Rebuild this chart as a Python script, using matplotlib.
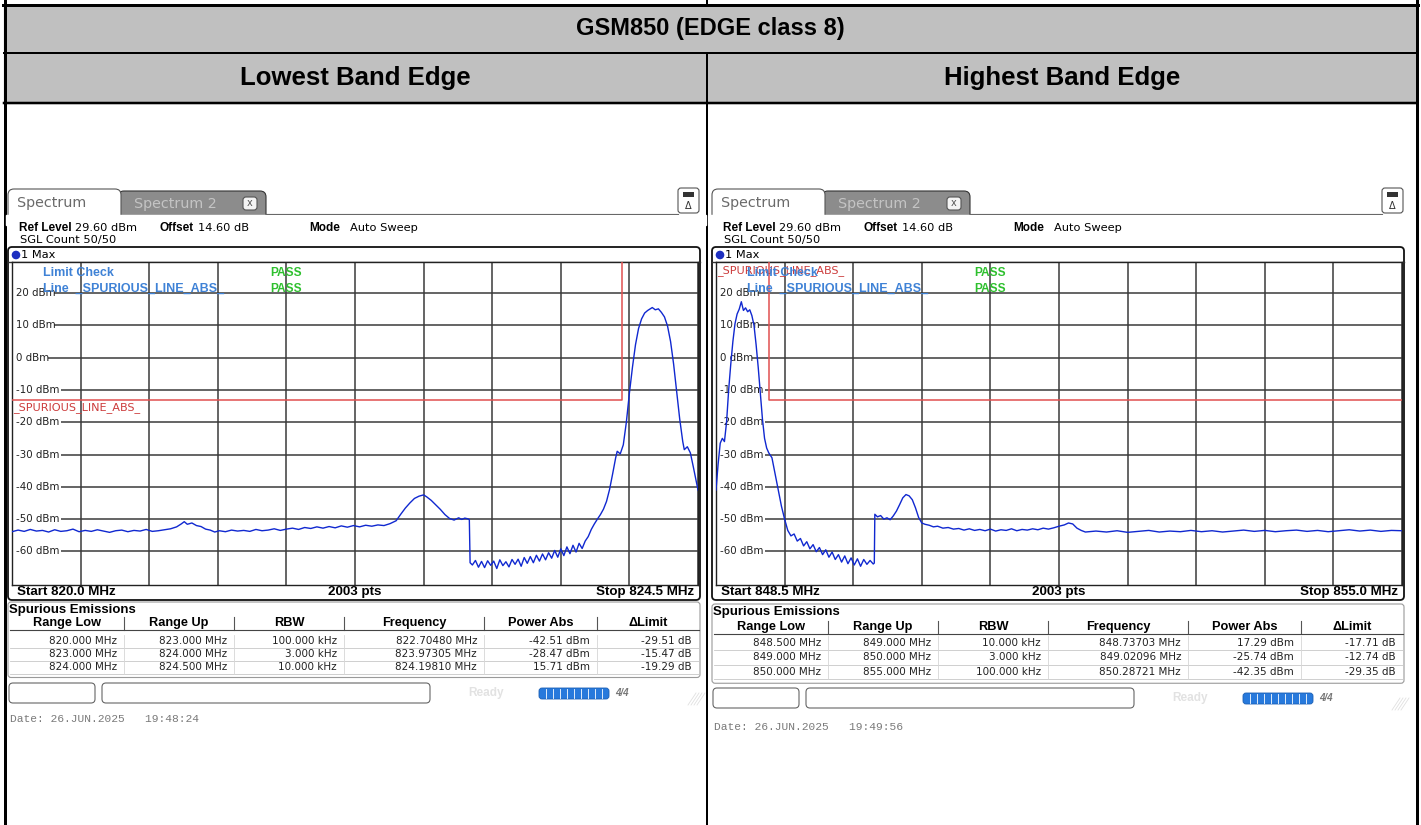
import numpy as np
import matplotlib
matplotlib.use('Agg')
import matplotlib.pyplot as plt
from matplotlib.patches import FancyBboxPatch, Rectangle, Circle

# ---------------- data ----------------
title = 'GSM850 (EDGE class 8)'
col_titles = ['Lowest Band Edge', 'Highest Band Edge']

low_span = (820.0, 824.5)
high_span = (848.5, 855.0)

low_freq = [820.00, 820.04, 820.08, 820.12, 820.16, 820.20, 820.24, 820.28, 820.32, 820.36,
            820.40, 820.44, 820.48, 820.52, 820.56, 820.60, 820.64, 820.68, 820.72, 820.76,
            820.80, 820.84, 820.88, 820.92, 820.96, 821.00, 821.04, 821.08, 821.11, 821.13,
            821.15, 821.18, 821.21, 821.24, 821.27, 821.30, 821.33, 821.36, 821.40, 821.44,
            821.48, 821.52, 821.56, 821.60, 821.64, 821.68, 821.72, 821.76, 821.80, 821.84,
            821.88, 821.92, 821.96, 822.00, 822.04, 822.08, 822.12, 822.16, 822.20, 822.24,
            822.28, 822.32, 822.36, 822.40, 822.44, 822.48, 822.52, 822.55, 822.58, 822.61,
            822.64, 822.67, 822.70, 822.72, 822.75, 822.78, 822.81, 822.84, 822.87, 822.90,
            822.93, 822.95, 822.97, 822.99, 823.00, 823.005, 823.02, 823.04, 823.06, 823.08,
            823.10, 823.12, 823.14, 823.16, 823.18, 823.20, 823.22, 823.24, 823.26, 823.28,
            823.30, 823.32, 823.34, 823.36, 823.38, 823.40, 823.42, 823.44, 823.46, 823.48,
            823.50, 823.52, 823.54, 823.56, 823.58, 823.60, 823.62, 823.64, 823.66, 823.68,
            823.70, 823.72, 823.74, 823.76, 823.78, 823.80, 823.82, 823.84, 823.86, 823.88,
            823.90, 823.92, 823.94, 823.96, 823.97, 823.99, 824.01, 824.03, 824.05, 824.07,
            824.09, 824.11, 824.13, 824.15, 824.17, 824.20, 824.22, 824.24, 824.26, 824.28,
            824.30, 824.32, 824.34, 824.36, 824.38, 824.40, 824.41, 824.43, 824.45, 824.47,
            824.50]
low_dbm = [-53.9, -53.4, -53.8, -53.2, -53.7, -53.5, -54.0, -53.3, -53.8, -53.6,
           -53.1, -53.9, -53.5, -53.8, -53.3, -53.7, -54.1, -53.6, -53.4, -53.9,
           -53.5, -53.7, -53.2, -53.8, -53.6, -53.3, -53.0, -52.4, -51.5, -50.8,
           -51.6, -51.2, -52.0, -52.3, -53.1, -53.4, -54.0, -53.6, -53.9, -53.4,
           -53.7, -53.5, -53.8, -53.2, -53.6, -53.4, -53.0, -53.5, -53.1, -52.8,
           -53.2, -52.6, -52.9, -52.4, -52.8, -52.3, -52.7, -52.1, -52.5, -52.0,
           -52.4, -51.9, -52.2, -51.8, -52.0, -51.4, -50.5, -48.5, -46.6, -45.0,
           -43.6, -42.9, -42.5, -43.1, -44.2, -45.6, -47.0, -48.6, -49.8, -50.3,
           -49.6, -50.1, -49.7, -49.9, -50.2, -63.5, -64.2, -62.8, -64.9, -63.1,
           -65.0, -62.9, -64.3, -63.0, -65.3, -62.6, -64.4, -63.2, -64.8, -62.5,
           -64.0, -62.4, -64.6, -61.9, -63.7, -61.6, -63.5, -61.2, -63.0, -60.8,
           -62.6, -60.4, -62.1, -59.7, -61.8, -59.2, -61.3, -58.6, -60.7, -58.1,
           -60.2, -57.5, -59.1, -56.8, -55.4, -53.2, -51.5, -50.0, -48.6, -46.9,
           -44.5, -40.8, -36.0, -31.0, -29.0, -29.8, -27.0, -20.0, -11.0, -3.0,
           4.0, 9.0, 12.0, 13.8, 14.6, 15.5, 14.8, 15.1, 14.0, 12.6,
           9.8, 5.0, -2.0, -10.5, -19.0, -26.0, -28.5, -27.6, -29.5, -34.0,
           -41.0]

high_freq = [848.50, 848.52, 848.54, 848.56, 848.58, 848.60, 848.62, 848.64, 848.66, 848.68,
             848.70, 848.72, 848.74, 848.76, 848.78, 848.80, 848.82, 848.84, 848.86, 848.88,
             848.90, 848.92, 848.94, 848.96, 848.98, 849.00, 849.03, 849.06, 849.09, 849.12,
             849.15, 849.18, 849.21, 849.24, 849.27, 849.30, 849.33, 849.36, 849.39, 849.42,
             849.45, 849.48, 849.51, 849.54, 849.57, 849.60, 849.63, 849.66, 849.69, 849.72,
             849.75, 849.78, 849.81, 849.84, 849.87, 849.90, 849.93, 849.96, 849.99, 850.00,
             850.005, 850.03, 850.06, 850.09, 850.12, 850.15, 850.18, 850.21, 850.24, 850.27,
             850.30, 850.33, 850.36, 850.39, 850.42, 850.45, 850.48, 850.52, 850.56, 850.60,
             850.65, 850.70, 850.75, 850.80, 850.85, 850.90, 850.95, 851.00, 851.05, 851.10,
             851.15, 851.20, 851.25, 851.30, 851.35, 851.40, 851.45, 851.50, 851.55, 851.60,
             851.65, 851.70, 851.75, 851.80, 851.84, 851.88, 851.92, 851.96, 852.00, 852.10,
             852.20, 852.30, 852.40, 852.50, 852.60, 852.70, 852.80, 852.90, 853.00, 853.10,
             853.20, 853.30, 853.40, 853.50, 853.60, 853.70, 853.80, 853.90, 854.00, 854.10,
             854.20, 854.30, 854.40, 854.50, 854.60, 854.70, 854.80, 854.90, 855.00]
high_dbm = [-41.0, -33.0, -26.5, -25.0, -26.0, -20.0, -10.0, -2.0, 5.0, 10.5,
            13.5, 15.0, 17.3, 14.6, 15.4, 14.2, 14.8, 13.0, 10.0, 4.0,
            -3.0, -11.0, -19.0, -25.0, -28.0, -29.5, -31.0, -36.0, -41.0, -46.0,
            -50.0, -53.5, -55.2, -54.6, -56.8, -56.0, -58.3, -57.0, -59.2, -57.9,
            -60.1, -58.8, -61.0, -59.5, -61.8, -60.2, -62.5, -61.0, -63.3, -61.4,
            -63.8, -62.0, -64.2, -62.3, -64.6, -62.5, -64.0, -62.8, -63.9, -63.6,
            -48.5, -49.3, -48.9, -50.0, -49.6, -50.2, -49.0, -47.5, -45.5, -43.4,
            -42.4, -42.8, -44.0, -46.5, -49.5, -51.2, -51.6, -51.9, -52.4, -52.2,
            -52.8, -52.6, -53.1, -52.9, -53.4, -53.0, -53.5, -53.2, -53.6, -53.1,
            -53.7, -53.3, -53.5, -53.0, -53.6, -53.2, -53.4, -53.0, -53.3, -52.8,
            -53.1, -52.7, -52.2, -51.8, -51.2, -51.5, -52.8, -53.5, -54.0, -53.7,
            -54.0, -53.6, -54.1, -53.8, -53.5, -54.0, -53.7, -53.9, -53.5, -53.9,
            -53.6, -54.0, -53.7, -53.4, -53.8, -53.5, -53.9, -53.6, -53.4, -53.8,
            -53.5, -53.9, -53.6, -53.3, -53.7, -53.4, -53.8, -53.5, -53.6]

# limit line _SPURIOUS_LINE_ABS_
low_lim_f = [820.0, 824.0, 824.0, 824.5]
low_lim_v = [-13, -13, 45, 45]
high_lim_f = [848.5, 849.0, 849.0, 855.0]
high_lim_v = [45, 45, -13, -13]

ylevels = [20, 10, 0, -10, -20, -30, -40, -50, -60]

tbl_head = ['Range Low', 'Range Up', 'RBW', 'Frequency', 'Power Abs', '\u0394Limit']
low_rows = [['820.000 MHz', '823.000 MHz', '100.000 kHz', '822.70480 MHz', '-42.51 dBm', '-29.51 dB'],
            ['823.000 MHz', '824.000 MHz', '3.000 kHz', '823.97305 MHz', '-28.47 dBm', '-15.47 dB'],
            ['824.000 MHz', '824.500 MHz', '10.000 kHz', '824.19810 MHz', '15.71 dBm', '-19.29 dB']]
high_rows = [['848.500 MHz', '849.000 MHz', '10.000 kHz', '848.73703 MHz', '17.29 dBm', '-17.71 dB'],
             ['849.000 MHz', '850.000 MHz', '3.000 kHz', '849.02096 MHz', '-25.74 dBm', '-12.74 dB'],
             ['850.000 MHz', '855.000 MHz', '100.000 kHz', '850.28721 MHz', '-42.35 dBm', '-29.35 dB']]
dates = ['Date: 26.JUN.2025   19:48:24', 'Date: 26.JUN.2025   19:49:56']

# ---------------- figure ----------------
W, H = 1421, 825
fig = plt.figure(figsize=(W / 100, H / 100), dpi=100)
bg = fig.add_axes([0, 0, 1, 1])
bg.set_xlim(0, W)
bg.set_ylim(H, 0)
bg.axis('off')

SANS = ['Liberation Sans', 'DejaVu Sans']   # word table + bold instrument text
RS = ['DejaVu Sans']                        # regular instrument text
px = 0.72  # pixels -> points

# outer word table
bg.add_patch(Rectangle((4, 5), 1412, 98, color='#c0c0c0', zorder=0))
bg.plot([3, 1418], [5, 5], color='k', lw=3 * px)
bg.plot([4, 1416], [53, 53], color='k', lw=2 * px)
bg.plot([4, 1416], [103, 103], color='k', lw=2.5 * px)
bg.plot([4.5, 4.5], [0, H], color='k', lw=3 * px)
bg.plot([1416.5, 1416.5], [0, H], color='k', lw=3 * px)
bg.plot([707, 707], [0, 5], color='k', lw=2 * px)
bg.plot([707, 707], [53, H], color='k', lw=2 * px)
bg.text(710, 29, title, ha='center', va='center', fontsize=17, fontweight='bold', family=SANS)
bg.text(355, 78, col_titles[0], ha='center', va='center', fontsize=18.5, fontweight='bold', family=SANS)
bg.text(1062, 78, col_titles[1], ha='center', va='center', fontsize=18.5, fontweight='bold', family=SANS)


def rbox(x0, y0, x1, y1, r, **kw):
    bg.add_patch(FancyBboxPatch((x0, y0), x1 - x0, y1 - y0,
                                boxstyle='round,pad=0,rounding_size=%g' % r, **kw))


def panel(ox, span, freq, dbm, lim_f, lim_v, rows, date, lay, limlab_y):
    # lay: y positions of the lower part (differs a little between the two screenshots)
    def t(x, y, s, bold=False, **kw):
        if bold:
            return bg.text(ox + x, y, s, family=SANS, fontweight='bold', va='center', **kw)
        return bg.text(ox + x, y, s, family=RS, va='center', **kw)

    # tabs
    rbox(ox + 118, 191, ox + 266, 222, 6, fc='#8c8c8c', ec='#333333', lw=0.8)
    rbox(ox + 8, 189, ox + 121, 222, 6, fc='white', ec='#555555', lw=0.8)
    bg.add_patch(Rectangle((ox + 6, 214.5), 700, 10, color='white', zorder=3))
    bg.plot([ox + 266, ox + 678], [214, 214], color='#444444', lw=0.8)
    t(17, 203, 'Spectrum', fontsize=10.3, color='#6a6a6a')
    t(134, 204, 'Spectrum 2', fontsize=10.3, color='#c4c4c4')
    rbox(ox + 243, 197, ox + 257, 210, 3, fc='#f4f4f4', ec='#555555', lw=0.8)
    t(250, 203, 'x', fontsize=7, color='#555555', ha='center')
    rbox(ox + 678, 188, ox + 699, 213, 3, fc='white', ec='#555555', lw=0.8)
    bg.add_patch(Rectangle((ox + 683, 192), 11, 5, fc='#333333', ec='none'))
    t(688.5, 206, '\u0394', fontsize=7, color='#333333', ha='center')
    # header lines
    t(19, 228, 'Ref Level', bold=True, fontsize=8.5)
    t(75, 228, '29.60 dBm', fontsize=8.2)
    t(159, 228, 'Offset', bold=True, fontsize=8.5)
    t(198, 228, '14.60 dB', fontsize=8.2)
    t(309, 228, 'Mode', bold=True, fontsize=8.5)
    t(350, 228, 'Auto Sweep', fontsize=8.2)
    t(20, 240.5, 'SGL Count 50/50', fontsize=8.2)
    # diagram frame
    rbox(ox + 8, 247, ox + 700, 600, 4, fc='none', ec='#111111', lw=1.3)
    bg.add_patch(Circle((ox + 16, 255), 3.6, color='#1d2fc0'))
    t(21, 255, '1 Max', fontsize=8.2)
    bg.plot([ox + 8, ox + 700], [261.5, 261.5], color='#333333', lw=1)

    ax = fig.add_axes([(ox + 12) / W, 1 - 585 / H, 686 / W, 323 / H])
    ax.set_xlim(*span)
    ax.set_ylim(-70.4, 29.6)
    ax.set_xticks(np.linspace(span[0], span[1], 11))
    ax.set_yticks(ylevels)
    ax.tick_params(length=0, labelleft=False, labelbottom=False)
    ax.grid(True, color='#3a3a3a', lw=1.1)
    for s in ax.spines.values():
        s.set_color('#222222')
        s.set_linewidth(1)
    ytr = ax.get_yaxis_transform()
    for v in ylevels:
        lab = '%d dBm' % v
        # level label sits on the grid line, which starts only after the text
        ax.add_patch(Rectangle((0.0015, v - 1.2), (len(lab) * 6.4 + 3) / 686, 2.4,
                               transform=ytr, fc='white', ec='none', zorder=2.2))
        ax.text(0.006, v, lab, transform=ytr, fontsize=7.4, family=RS,
                va='center', ha='left', color='#222222', zorder=3)
    ax.plot(lim_f, lim_v, color='#e05050', lw=1.1, zorder=2.6)
    ax.text(0.002, limlab_y, '_SPURIOUS_LINE_ABS_', transform=ytr,
            fontsize=8.1, family=RS, color='#cc3b3b', va='center', zorder=3)
    ax.plot(freq, dbm, color='#1028d0', lw=1.0, zorder=4)
    ax.text(0.045, 26.2, 'Limit Check', transform=ytr, fontsize=9,
            family=SANS, fontweight='bold', color='#3f82d6', va='center', zorder=5)
    ax.text(0.045, 21.2, 'Line  _SPURIOUS_LINE_ABS_', transform=ytr,
            fontsize=9, family=SANS, fontweight='bold', color='#3f82d6', va='center', zorder=5)
    for yy in (26.2, 21.2):
        ax.text(0.376, yy, 'PASS', transform=ytr, fontsize=8.6,
                family=SANS, fontweight='bold', color='#2ec02e', va='center', zorder=5)

    # footer of diagram
    t(17, 592, 'Start %.1f MHz' % span[0], bold=True, fontsize=9.6)
    t(355, 592, '2003 pts', bold=True, fontsize=9.6, ha='center')
    t(694, 592, 'Stop %.1f MHz' % span[1], bold=True, fontsize=9.6, ha='right')

    # spurious emissions table
    y_sp, y_hd, y_r0, rs, y_st, y_dt = lay
    rbox(ox + 8, y_sp - 8, ox + 700, y_r0 + 2 * rs + rs / 2 + 4, 3, fc='none', ec='#9a9a9a', lw=0.8)
    t(9, y_sp, 'Spurious Emissions', bold=True, fontsize=9.5)
    seps = [10, 124, 234, 344, 484, 597, 699]
    for i, h in enumerate(tbl_head):
        t((seps[i] + seps[i + 1]) / 2, y_hd, h, bold=True, fontsize=9.2, ha='center')
    for sx in seps[1:-1]:
        bg.plot([ox + sx, ox + sx], [y_hd - 6.5, y_hd + 6.5], color='#555555', lw=0.8)
    bg.plot([ox + 10, ox + 699], [y_hd + 7, y_hd + 7], color='#444444', lw=0.8)
    for r, row in enumerate(rows):
        yy = y_r0 + r * rs
        for i, v in enumerate(row):
            t(seps[i + 1] - 7, yy, v, fontsize=7.5, ha='right', color='#222222')
        bg.plot([ox + 10, ox + 699], [yy + rs / 2, yy + rs / 2], color='#c8c8c8', lw=0.6)
        for sx in seps[1:-1]:
            bg.plot([ox + sx, ox + sx], [yy - rs / 2, yy + rs / 2], color='#d6d6d6', lw=0.6)

    # status bar
    rbox(ox + 9, y_st, ox + 95, y_st + 20, 4, fc='white', ec='#666666', lw=0.8)
    rbox(ox + 102, y_st, ox + 430, y_st + 20, 4, fc='white', ec='#666666', lw=0.8)
    t(468, y_st + 10, 'Ready', bold=True, fontsize=8.5, color='#e2e2e2')
    rbox(ox + 539, y_st + 5, ox + 609, y_st + 16, 3, fc='#2779dc', ec='#1b5fb5', lw=0.6)
    for k in range(1, 10):
        bg.plot([ox + 539 + k * 7, ox + 539 + k * 7], [y_st + 6, y_st + 15], color='white', lw=0.6)
    t(615, y_st + 10, '4/4', bold=True, fontsize=7, style='italic', color='#777777')
    for k in range(4):
        bg.plot([ox + 688 + k * 3, ox + 696 + k * 3], [y_st + 22, y_st + 10], color='#e0e0e0', lw=0.6)

    bg.text(ox + 10, y_dt, date, family=['Liberation Mono', 'DejaVu Sans Mono'],
            fontsize=8.1, color='#7a7a7a', va='center')


panel(0, low_span, low_freq, low_dbm, low_lim_f, low_lim_v, low_rows, dates[0],
      (610, 623, 641, 13, 683, 719), -15.5)
panel(704, high_span, high_freq, high_dbm, high_lim_f, high_lim_v, high_rows, dates[1],
      (612, 627, 643, 14.5, 688, 727), 27.0)

fig.savefig('out.png', dpi=100)
